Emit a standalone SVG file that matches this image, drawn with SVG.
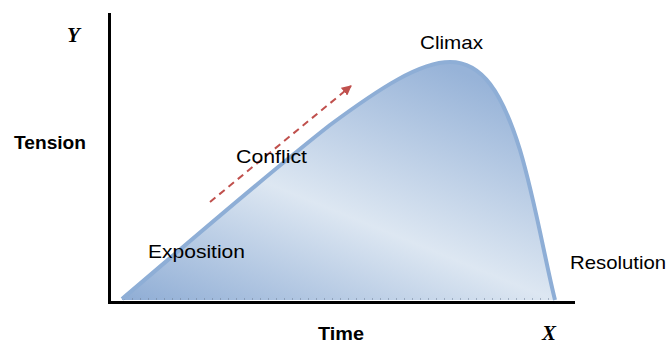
<svg xmlns="http://www.w3.org/2000/svg" width="668" height="345" viewBox="0 0 668 345">
  <style>
    .lbl { font-family: "Liberation Sans", Arial, sans-serif; font-size: 19px; fill: #000; }
    .bold { font-weight: bold; font-size: 18px; }
    .var { font-family: "Liberation Serif", "Times New Roman", serif; font-style: italic; font-weight: bold; font-size: 21px; fill: #000; }
    .axis { stroke: #000; stroke-width: 3; fill: none; }
  </style>
  <defs>
    <linearGradient id="fillGrad" gradientUnits="userSpaceOnUse" x1="336" y1="387" x2="464" y2="73">
      <stop offset="0" stop-color="#8fadd5"/>
      <stop offset="0.48" stop-color="#dde7f2"/>
      <stop offset="1" stop-color="#97b3d8"/>
    </linearGradient>
    <marker id="arrowHead" viewBox="0 0 10 10" refX="9" refY="5" markerWidth="5" markerHeight="5" orient="auto" markerUnits="strokeWidth">
      <path d="M0,0 L10,5 L0,10 z" fill="#c0504d"/>
    </marker>
  </defs>

  <g id="area">
    <path d="M122,299 C180,250 260,180 330,125 C380,88 420,62 450,62 C482,62 502,92 520,150 C535,200 545,260 555,300 L122,300 Z" fill="url(#fillGrad)"/>
    <line x1="124" y1="299" x2="553" y2="299" stroke="#6f7f96" stroke-width="2" stroke-dasharray="1 7" opacity="0.5"/>
    <path d="M122,299 C180,250 260,180 330,125 C380,88 420,62 450,62 C482,62 502,92 520,150 C535,200 545,260 555,300" fill="none" stroke="#8eaed6" stroke-width="4" stroke-linejoin="round"/>
  </g>

  <g id="axes">
    <line class="axis" x1="109.5" y1="13" x2="109.5" y2="303.5"/>
    <line class="axis" x1="108" y1="302.5" x2="575" y2="302.5"/>
  </g>

  <g id="connectors">
    <line x1="210" y1="202" x2="351" y2="86" stroke="#c0504d" stroke-width="2" stroke-dasharray="7 5" marker-end="url(#arrowHead)"/>
  </g>

  <g id="labels">
    <text id="label-y" class="var" x="67" y="42">Y</text>
    <text id="label-tension" class="lbl bold" x="14" y="149" textLength="72" lengthAdjust="spacingAndGlyphs">Tension</text>
    <text id="label-climax" class="lbl" x="420" y="49" textLength="63" lengthAdjust="spacingAndGlyphs">Climax</text>
    <text id="label-conflict" class="lbl" x="236" y="163" textLength="71" lengthAdjust="spacingAndGlyphs">Conflict</text>
    <text id="label-exposition" class="lbl" x="148" y="258" textLength="97" lengthAdjust="spacingAndGlyphs">Exposition</text>
    <text id="label-resolution" class="lbl" x="570" y="269" textLength="96" lengthAdjust="spacingAndGlyphs">Resolution</text>
    <text id="label-time" class="lbl bold" x="318" y="340" textLength="46" lengthAdjust="spacingAndGlyphs">Time</text>
    <text id="label-x" class="var" x="542" y="340">X</text>
  </g>
</svg>
